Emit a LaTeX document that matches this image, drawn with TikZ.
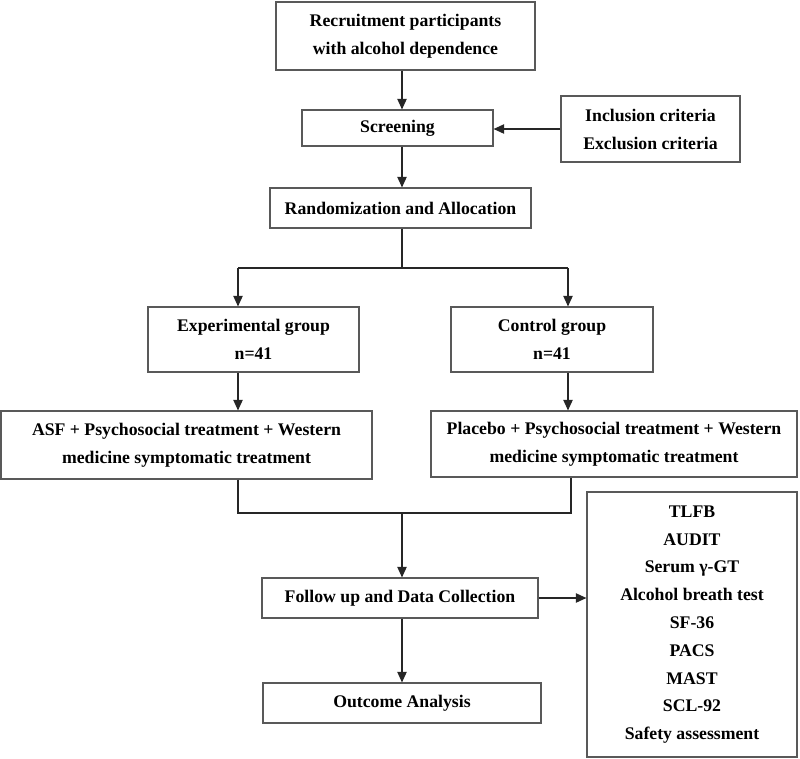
\documentclass[tikz,border=0pt]{standalone}
\usepackage{fontspec}
\setmainfont{Liberation Serif}
\usepackage{tikz}
\usetikzlibrary{arrows.meta}

\begin{document}
\begin{tikzpicture}[x=0.75pt, y=-0.75pt,
	box/.style={draw=black!65, line width=0.8pt, align=center, inner sep=0pt,
		font=\fontsize{13.3}{21}\selectfont\bfseries},
	arr/.style={draw=black!85, line width=1.1pt, -{Triangle[length=8pt,width=7pt]}},
	lin/.style={draw=black!85, line width=1pt}]
	\useasboundingbox (0,0) rectangle (800,758);
	\node[box, minimum width=194.25pt, minimum height=51pt] (recruit) at (405.5,36) {Recruitment participants\\with alcohol dependence};
	\node[box, minimum width=143.25pt, minimum height=27pt] (screen) at (397.5,128) {Screening};
	\node[box, minimum width=134.25pt, minimum height=49.5pt] (incl) at (650.5,129) {Inclusion criteria\\Exclusion criteria};
	\node[box, minimum width=195.75pt, minimum height=30pt] (rand) at (400.5,208) {Randomization and Allocation};
	\node[box, minimum width=158.25pt, minimum height=48.75pt] (exp) at (253.5,339.5) {Experimental group\\n=41};
	\node[box, minimum width=151.5pt, minimum height=48.75pt] (ctrl) at (552,339.5) {Control group\\n=41};
	\node[box, minimum width=278.25pt, minimum height=51pt] (asf) at (186.5,445) {ASF + Psychosocial treatment + Western\\medicine symptomatic treatment};
	\node[box, minimum width=274.5pt, minimum height=49.5pt] (plac) at (614,444) {Placebo + Psychosocial treatment + Western\\medicine symptomatic treatment};
	\node[box, minimum width=207pt, minimum height=30pt] (follow) at (400,598) {Follow up and Data Collection};
	\node[box, minimum width=157.5pt, minimum height=198.75pt,
		font=\fontsize{13.3}{20.85}\selectfont\bfseries] (outc) at (692,624.5)
		{TLFB\\AUDIT\\Serum γ-GT\\Alcohol breath test\\SF-36\\PACS\\MAST\\SCL-92\\Safety assessment};
	\node[box, minimum width=208.5pt, minimum height=30pt] (anal) at (402,703) {Outcome Analysis};
	% split and merge points
	\coordinate (split) at (402,268);
	\coordinate (lsplit) at (238,268);
	\coordinate (rsplit) at (568,268);
	\coordinate (merge) at (402,513);
	\coordinate (lmerge) at (238,513);
	\coordinate (rmerge) at (571,513);
	\draw[arr] (recruit.south -| split) -- (screen.north -| split);
	\draw[arr] (incl.west) -- (incl.west -| screen.east);
	\draw[arr] (screen.south -| split) -- (rand.north -| split);
	\draw[lin] (rand.south -| split) -- (split);
	\draw[lin] (lsplit) -- (rsplit);
	\draw[arr] (lsplit) -- (lsplit |- exp.north);
	\draw[arr] (rsplit) -- (rsplit |- ctrl.north);
	\draw[arr] (exp.south -| lsplit) -- (asf.north -| lsplit);
	\draw[arr] (ctrl.south -| rsplit) -- (plac.north -| rsplit);
	\draw[lin] (asf.south -| lmerge) -- (lmerge) -- (rmerge) -- (plac.south -| rmerge);
	\draw[arr] (merge) -- (merge |- follow.north);
	\draw[arr] (follow.east) -- (follow.east -| outc.west);
	\draw[arr] (follow.south -| merge) -- (anal.north -| merge);
\end{tikzpicture}
\end{document}
